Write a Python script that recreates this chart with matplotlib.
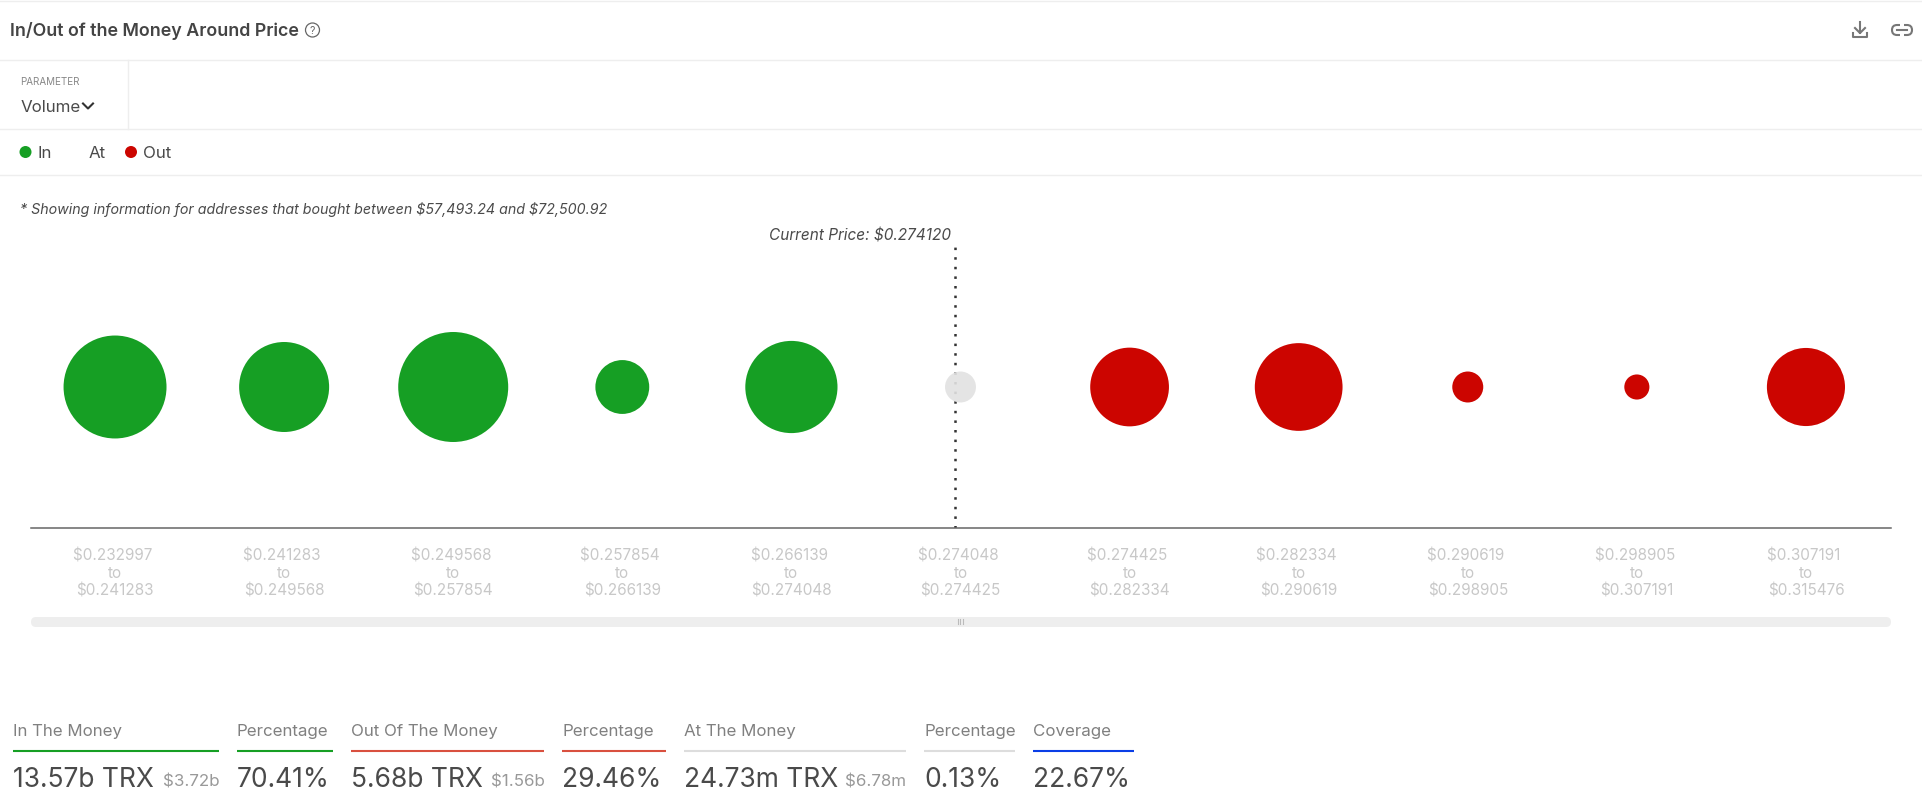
import numpy as np
import matplotlib
matplotlib.use('Agg')
import matplotlib.pyplot as plt
from matplotlib.colors import to_rgba
from matplotlib.patches import FancyBboxPatch, Circle, Rectangle

plt.rcParams['font.family'] = ['Inter', 'DejaVu Sans']
plt.rcParams['text.parse_math'] = False

W, H = 1922, 803
GREEN = '#169f24'
RED = '#cc0500'
GREY = '#e2e2e2'
TXT = '#4a4a4a'

# price bands + bubble size (relative)
range_low = ['$0.232997', '$0.241283', '$0.249568', '$0.257854', '$0.266139', '$0.274048',
             '$0.274425', '$0.282334', '$0.290619', '$0.298905', '$0.307191']
range_high = ['$0.241283', '$0.249568', '$0.257854', '$0.266139', '$0.274048', '$0.274425',
              '$0.282334', '$0.290619', '$0.298905', '$0.307191', '$0.315476']
bubble_value = [106, 81, 121, 29, 85, 9.6, 62, 77, 9.6, 6.3, 61]
bubble_group = ['in', 'in', 'in', 'in', 'in', 'at', 'out', 'out', 'out', 'out', 'out']
current_price_label = 'Current Price: $0.274120'
current_price_pos = 4.97

# summary row under the chart
stat_labels = ['In The Money', 'Percentage', 'Out Of The Money', 'Percentage',
               'At The Money', 'Percentage', 'Coverage']
stat_values = ['13.57b TRX', '70.41%', '5.68b TRX', '29.46%', '24.73m TRX', '0.13%', '22.67%']
stat_usd = ['$3.72b', '', '$1.56b', '', '$6.78m', '', '']
stat_left = [13, 237, 351, 562, 684, 924, 1033]
stat_right = [219, 333, 544, 666, 906, 1015, 1134]
stat_usd_x = [163, 0, 491, 0, 845, 0, 0]
stat_colors = [GREEN, GREEN, '#d9503f', '#d9503f', '#dddddd', '#dddddd', '#0a3ee6']

fig = plt.figure(figsize=(W / 100, H / 100), dpi=100)

# page furniture, in pixel coords
ui = fig.add_axes([0, 0, 1, 1])
ui.set_xlim(0, W); ui.set_ylim(H - 1, -1); ui.axis('off')

for y in [1, 60, 129, 175]:
    ui.plot([0, W], [y, y], color='#eeeeee', lw=1)
ui.plot([127.5, 127.5], [60, 129], color='#eeeeee', lw=1)

ui.text(10, 30.5, 'In/Out of the Money Around Price', fontsize=12.85, weight='semibold',
        color='#444444', va='center')
ui.add_patch(Circle((312.5, 30), 7, fc='none', ec='#666666', lw=0.9))
ui.text(312.5, 30.5, '?', fontsize=7.5, color='#666666', ha='center', va='center')

# download icon
ui.plot([1860, 1860], [22, 33], color='#777777', lw=1.5)
ui.plot([1855, 1860, 1865], [28, 33, 28], color='#777777', lw=1.5)
ui.plot([1853, 1853, 1867, 1867], [33, 37, 37, 33], color='#777777', lw=1.5)
# link icon
ui.add_patch(FancyBboxPatch((1892, 25), 20, 10, boxstyle='round,pad=0,rounding_size=5',
                            fc='white', ec='#777777', lw=1.5))
ui.add_patch(Rectangle((1900, 23), 4, 14, fc='white', ec='none', zorder=3))
ui.plot([1897, 1907], [30, 30], color='#777777', lw=1.5, zorder=4)

ui.text(20.5, 81, 'PARAMETER', fontsize=7.1, color='#888888', va='center')
ui.text(21, 106, 'Volume', fontsize=12.2, color=TXT, va='center')
ui.plot([83, 88, 93], [103.5, 108.5, 103.5], color='#333333', lw=1.5)

ui.add_patch(Circle((25.5, 152), 6, fc=GREEN, ec='none'))
ui.text(37.5, 152, 'In', fontsize=12.2, color=TXT, va='center')
ui.text(89, 152, 'At', fontsize=12.2, color=TXT, va='center')
ui.add_patch(Circle((131, 152), 6, fc=RED, ec='none'))
ui.text(143.5, 152, 'Out', fontsize=12.2, color=TXT, va='center')

ui.text(20.5, 208.5, '* Showing information for addresses that bought between $57,493.24 and $72,500.92',
        fontsize=10.25, style='italic', color=TXT, va='center')
ui.text(951, 235, current_price_label, fontsize=11.05, style='italic', color=TXT, ha='right', va='center')

# scrollbar under the axis
ui.add_patch(FancyBboxPatch((31, 617), 1860, 10, boxstyle='round,pad=0,rounding_size=5',
                            fc='#eeeeee', ec='none', mutation_aspect=1))
for x in [957.5, 960, 962.5]:
    ui.plot([x, x], [619, 624], color='#bbbbbb', lw=0.8)

# summary
for i in range(len(stat_labels)):
    ui.text(stat_left[i], 731, stat_labels[i], fontsize=12.2, color='#808080', va='center')
    ui.plot([stat_left[i], stat_right[i]], [750.5, 750.5], color=stat_colors[i], lw=1.5,
            solid_capstyle='butt')
    ui.text(stat_left[i], 779, stat_values[i], fontsize=19, color=TXT, va='center')
    if stat_usd[i]:
        ui.text(stat_usd_x[i], 781, stat_usd[i], fontsize=12.2, color='#999999', va='center')

# chart itself
ax = fig.add_axes([31 / W, 1 - 529 / H, 1860 / W, 282 / H])
ax.patch.set_alpha(0)
ax.set_xlim(-0.497, 10.503)
ax.set_ylim(-1, 1)

group_colors = {'in': to_rgba(GREEN), 'out': to_rgba(RED), 'at': to_rgba(GREY, 0.9)}
x = np.arange(len(bubble_value))
colors = [group_colors[g] for g in bubble_group]
ax.axvline(current_price_pos, color='#333333', lw=1.8, ls=(0, (1, 2.84)), zorder=1)
ax.scatter(x, np.zeros(len(x)), s=np.array(bubble_value) * 51.84, c=colors, linewidths=0, zorder=2)

ax.set_xticks(x)
ax.set_xticklabels([f'{a} \nto\n{b}' for a, b in zip(range_low, range_high)],
                   fontsize=11, color='#c8c8c8', linespacing=1.2)
ax.tick_params(axis='x', length=0, pad=14)
ax.set_yticks([])
for s in ['top', 'left', 'right']:
    ax.spines[s].set_visible(False)
ax.spines['bottom'].set_color('#666666')
ax.spines['bottom'].set_linewidth(1.1)

fig.savefig('out.png', dpi=100)
